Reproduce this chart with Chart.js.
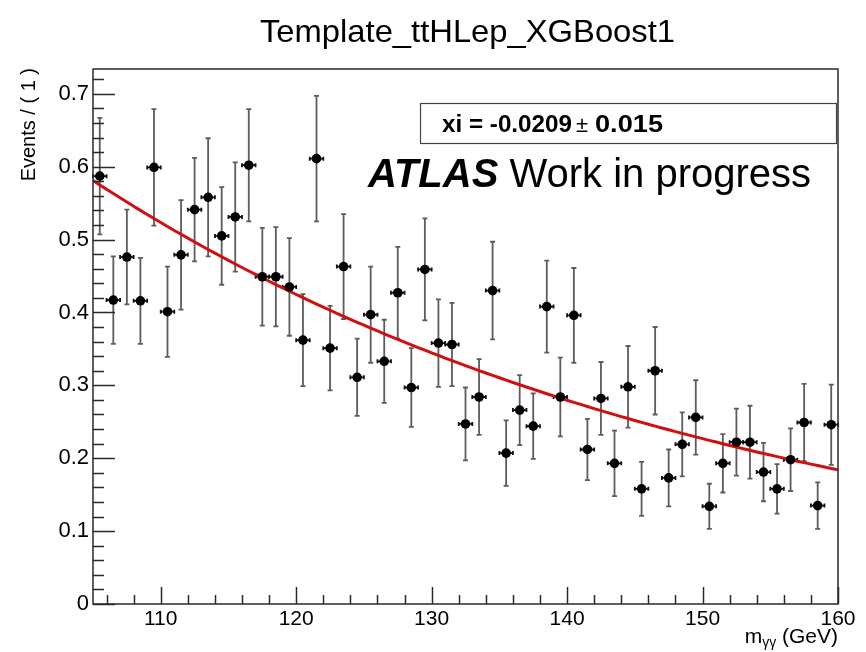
<!DOCTYPE html>
<html>
<head>
<meta charset="utf-8">
<title>Template_ttHLep_XGBoost1</title>
<script src="https://cdn.jsdelivr.net/npm/chart.js@4.4.1/dist/chart.umd.min.js"></script>
<style>
  html, body { margin: 0; padding: 0; background: #fff; }
  #wrap { width: 866px; height: 652px; }
</style>
</head>
<body>
<div id="wrap"><canvas id="c" width="866" height="652"></canvas></div>
<script>
// Diphoton mass bin centres (GeV), 1 GeV bins from 105 to 160
const massBins = [
  105.5, 106.5, 107.5, 108.5, 109.5, 110.5, 111.5, 112.5, 113.5, 114.5,
  115.5, 116.5, 117.5, 118.5, 119.5, 120.5, 121.5, 122.5, 123.5, 124.5,
  125.5, 126.5, 127.5, 128.5, 129.5, 130.5, 131.5, 132.5, 133.5, 134.5,
  135.5, 136.5, 137.5, 138.5, 139.5, 140.5, 141.5, 142.5, 143.5, 144.5,
  145.5, 146.5, 147.5, 148.5, 149.5, 150.5, 151.5, 152.5, 153.5, 154.5,
  155.5, 156.5, 157.5, 158.5, 159.5
];

// Weighted events per bin
const events = [
  0.587, 0.417, 0.476, 0.416, 0.599, 0.401, 0.479, 0.541, 0.558, 0.505,
  0.531, 0.602, 0.449, 0.449, 0.435, 0.362, 0.611, 0.351, 0.463, 0.311,
  0.397, 0.333, 0.427, 0.297, 0.459, 0.358, 0.356, 0.247, 0.284, 0.430,
  0.207, 0.266, 0.244, 0.408, 0.284, 0.396, 0.212, 0.282, 0.193, 0.298,
  0.158, 0.320, 0.173, 0.219, 0.256, 0.134, 0.193, 0.222, 0.222, 0.181,
  0.158, 0.198, 0.249, 0.135, 0.246
];

// Statistical uncertainty per bin
const eventErrors = [
  0.080, 0.060, 0.065, 0.059, 0.080, 0.062, 0.075, 0.071, 0.081, 0.067,
  0.075, 0.077, 0.067, 0.068, 0.067, 0.063, 0.086, 0.058, 0.072, 0.053,
  0.066, 0.057, 0.063, 0.054, 0.070, 0.060, 0.057, 0.050, 0.052, 0.067,
  0.045, 0.048, 0.045, 0.063, 0.054, 0.065, 0.042, 0.050, 0.045, 0.056,
  0.037, 0.060, 0.039, 0.044, 0.051, 0.031, 0.040, 0.046, 0.050, 0.040,
  0.034, 0.043, 0.053, 0.032, 0.055
];

const binHalfWidth = 0.5;

// Axis ticks
const xTickValues = [110, 120, 130, 140, 150, 160];
const xTickLabels = ['110', '120', '130', '140', '150', '160'];
const yTickValues = [0, 0.1, 0.2, 0.3, 0.4, 0.5, 0.6, 0.7];
const yTickLabels = ['0', '0.1', '0.2', '0.3', '0.4', '0.5', '0.6', '0.7'];

// Exponential background fit: norm * exp(xi * (m - 105))
const fitXi = -0.0209;
const fitXiErr = 0.015;
const fitNorm = 0.581;
const fitRange = [105, 160];

const FONT = '"Liberation Sans", Arial, Helvetica, sans-serif';

const dataPoints = massBins.map((m, i) => ({ x: m, y: events[i] }));

const fitCurve = [];
for (let m = fitRange[0]; m <= fitRange[1] + 1e-9; m += 0.5) {
  fitCurve.push({ x: m, y: fitNorm * Math.exp(fitXi * (m - fitRange[0])) });
}

// Error bars (vertical stat. error, horizontal bin width) drawn under the markers
const errorBars = {
  id: 'errorBars',
  beforeDatasetsDraw(chart) {
    const { ctx, scales: { x, y } } = chart;
    ctx.save();
    massBins.forEach((m, i) => {
      const xp = x.getPixelForValue(m);
      const yp = y.getPixelForValue(events[i]);
      const yHi = y.getPixelForValue(events[i] + eventErrors[i]);
      const yLo = y.getPixelForValue(events[i] - eventErrors[i]);
      const xL = x.getPixelForValue(m - binHalfWidth);
      const xR = x.getPixelForValue(m + binHalfWidth);
      ctx.strokeStyle = '#5c5c5c';
      ctx.lineWidth = 1.8;
      ctx.beginPath();
      ctx.moveTo(xp, yHi); ctx.lineTo(xp, yLo);
      ctx.moveTo(xp - 2.5, yHi); ctx.lineTo(xp + 2.5, yHi);
      ctx.moveTo(xp - 2.5, yLo); ctx.lineTo(xp + 2.5, yLo);
      ctx.stroke();
      ctx.strokeStyle = '#111';
      ctx.beginPath();
      ctx.moveTo(xL, yp); ctx.lineTo(xR, yp);
      ctx.moveTo(xL, yp - 2); ctx.lineTo(xL, yp + 2);
      ctx.moveTo(xR, yp - 2); ctx.lineTo(xR, yp + 2);
      ctx.stroke();
    });
    ctx.restore();
  }
};

function fitText(ctx, text, x, y, width) {
  const w = ctx.measureText(text).width;
  ctx.save();
  ctx.translate(x, y);
  ctx.scale(width / w, 1);
  ctx.fillText(text, 0, 0);
  ctx.restore();
}

// Frame, inward ticks and the text annotations
const frameAndText = {
  id: 'frameAndText',
  afterDraw(chart) {
    const { ctx, chartArea: a, scales: { x, y } } = chart;
    ctx.save();
    ctx.strokeStyle = '#2a2a2a';
    ctx.lineWidth = 1.5;
    ctx.strokeRect(a.left, a.top, a.right - a.left, a.bottom - a.top);

    ctx.beginPath();
    for (let i = 0; i <= 36; i++) {
      const v = i * 0.02;
      const yp = Math.round(y.getPixelForValue(v)) + 0.5;
      const len = (i % 5 === 0) ? 22 : 11;
      ctx.moveTo(a.left, yp); ctx.lineTo(a.left + len, yp);
    }
    for (let v = 106; v <= 160; v += 2) {
      const xp = Math.round(x.getPixelForValue(v)) + 0.5;
      const len = (v % 10 === 0) ? 17 : 9;
      ctx.moveTo(xp, a.bottom); ctx.lineTo(xp, a.bottom - len);
    }
    ctx.stroke();

    ctx.fillStyle = '#000';
    // Title
    ctx.font = '32px ' + FONT;
    ctx.textAlign = 'left';
    ctx.textBaseline = 'alphabetic';
    fitText(ctx, 'Template_ttHLep_XGBoost1', 260, 42, 415);

    // Y axis title
    ctx.save();
    ctx.font = '20px ' + FONT;
    ctx.translate(29, 68);
    ctx.rotate(-Math.PI / 2);
    ctx.textAlign = 'right';
    ctx.textBaseline = 'middle';
    ctx.fillText('Events / ( 1 )', 0, 0);
    ctx.restore();

    // X axis title, right aligned to the frame
    ctx.textAlign = 'left';
    ctx.font = '21px ' + FONT;
    const gev = ' (GeV)';
    const wGev = ctx.measureText(gev).width;
    ctx.font = '14px ' + FONT;
    const sub = '\u03b3\u03b3';
    const wSub = ctx.measureText(sub).width;
    ctx.font = '21px ' + FONT;
    const wM = ctx.measureText('m').width;
    const xs = a.right - wGev - wSub - wM;
    ctx.fillText('m', xs, 643);
    ctx.font = '14px ' + FONT;
    ctx.fillText(sub, xs + wM, 647);
    ctx.font = '21px ' + FONT;
    ctx.fillText(gev, xs + wM + wSub, 643);

    // Fit parameter box
    ctx.fillStyle = '#fff';
    ctx.fillRect(420, 103, 416, 40);
    ctx.strokeStyle = '#444';
    ctx.lineWidth = 1.2;
    ctx.strokeRect(420.5, 103.5, 416, 40);
    ctx.fillStyle = '#000';
    ctx.font = 'bold 23px ' + FONT;
    fitText(ctx, 'xi = ' + fitXi.toFixed(4), 442, 132, 130);
    ctx.font = '22px ' + FONT;
    ctx.fillText('\u00b1', 576, 132);
    ctx.font = 'bold 23px ' + FONT;
    fitText(ctx, fitXiErr.toFixed(3), 595, 132, 68);

    // Experiment label
    ctx.font = 'italic bold 40px ' + FONT;
    ctx.fillText('ATLAS', 368, 187);
    const wAtlas = ctx.measureText('ATLAS ').width;
    ctx.font = '40px ' + FONT;
    ctx.fillText('Work in progress', 368 + wAtlas, 187);
    ctx.restore();
  }
};

new Chart(document.getElementById('c'), {
  type: 'scatter',
  data: {
    datasets: [
      {
        label: 'data',
        data: dataPoints,
        pointRadius: 4.8,
        pointBackgroundColor: '#000',
        pointBorderWidth: 0,
        showLine: false,
        order: 0
      },
      {
        label: 'fit',
        type: 'line',
        data: fitCurve,
        borderColor: '#d01010',
        borderWidth: 3,
        pointRadius: 0,
        tension: 0,
        fill: false,
        order: 1
      }
    ]
  },
  options: {
    responsive: false,
    animation: false,
    events: [],
    layout: { padding: { left: 0, top: 69, right: 28, bottom: 0 } },
    plugins: {
      legend: { display: false },
      tooltip: { enabled: false },
      title: { display: false }
    },
    scales: {
      x: {
        type: 'linear',
        min: 105,
        max: 160,
        grid: { display: false, drawTicks: false },
        border: { display: false },
        afterBuildTicks: s => { s.ticks = xTickValues.map(v => ({ value: v })); },
        afterFit: s => { s.height = 48; },
        ticks: {
          color: '#000',
          font: { family: FONT, size: 21 },
          padding: 3,
          maxRotation: 0,
          autoSkip: false,
          callback: (v, i) => xTickLabels[i]
        }
      },
      y: {
        type: 'linear',
        min: 0,
        max: 0.734,
        grid: { display: false, drawTicks: false },
        border: { display: false },
        afterBuildTicks: s => { s.ticks = yTickValues.map(v => ({ value: v })); },
        afterFit: s => { s.width = 93; },
        ticks: {
          color: '#000',
          font: { family: FONT, size: 22 },
          padding: 4,
          autoSkip: false,
          callback: (v, i) => yTickLabels[i]
        }
      }
    }
  },
  plugins: [errorBars, frameAndText]
});
</script>
</body>
</html>
